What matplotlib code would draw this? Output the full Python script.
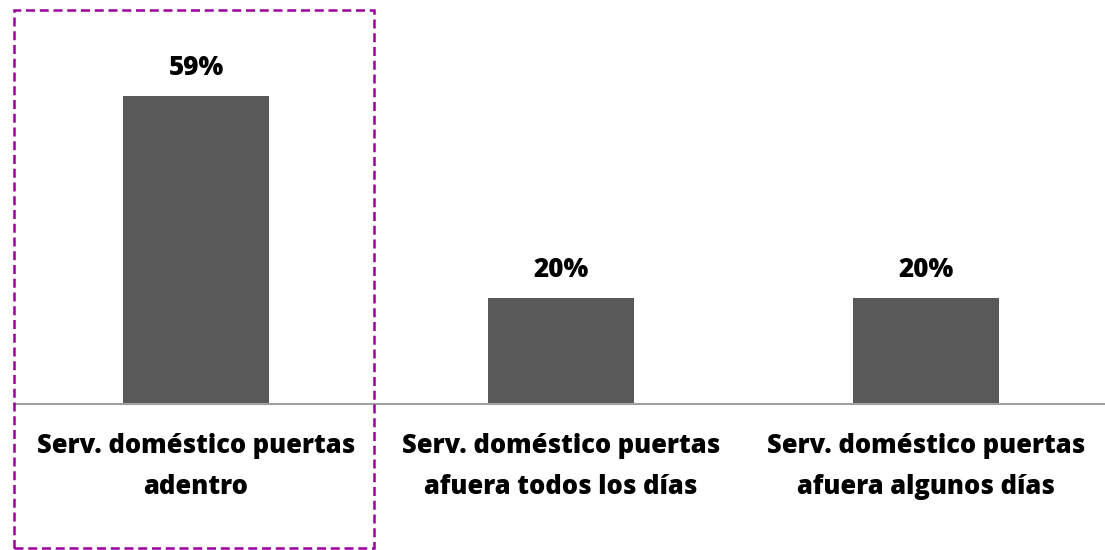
import matplotlib
matplotlib.use("Agg")
import matplotlib.pyplot as plt
from matplotlib.patches import Rectangle

# data
categories = ["Serv. doméstico puertas\nadentro",
              "Serv. doméstico puertas\nafuera todos los días",
              "Serv. doméstico puertas\nafuera algunos días"]
values = [59, 20.3, 20.3]
labels = ["59%", "20%", "20%"]

plt.rcParams['font.family'] = ['Open Sans', 'DejaVu Sans']

fig = plt.figure(figsize=(11.05, 5.5), dpi=100)
ax = fig.add_axes([13.5 / 1105, 146 / 550, 1095 / 1105, 391.5 / 550])

x = range(len(categories))
ax.bar(x, values, width=0.4, color='#595959', zorder=2)
for xi, v, lab in zip(x, values, labels):
    ax.annotate(lab, (xi, v), xytext=(0, 10.5), textcoords='offset points',
                ha='center', va='bottom', fontsize=18.7, fontweight=800)

ax.set_xlim(-0.5, 2.5)
ax.set_ylim(0, 75)
ax.set_xticks(list(x))
ax.set_xticklabels(categories, fontsize=18.4, fontweight=800, linespacing=1.75)
ax.tick_params(axis='x', length=0, pad=21)
ax.set_yticks([])
for s in ['top', 'right', 'left']:
    ax.spines[s].set_visible(False)
ax.spines['bottom'].set_color('#a0a0a0')
ax.spines['bottom'].set_linewidth(1.5)
ax.spines['bottom'].set_bounds(-0.5, 3)

# dashed highlight box around first category
box = Rectangle((14 / 1105, 2 / 550), 360 / 1105, 538 / 550, transform=fig.transFigure,
                fill=False, edgecolor='#9c009c', linewidth=1.8, linestyle=(0, (3.6, 1.9)))
fig.patches.append(box)

fig.savefig("out.png", dpi=100)
